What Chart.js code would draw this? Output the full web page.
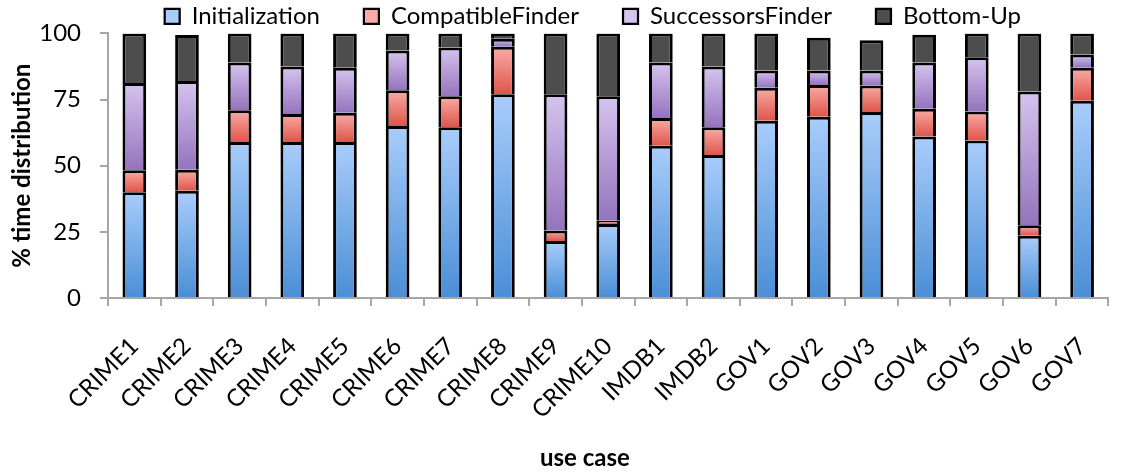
<!DOCTYPE html>
<html><head><meta charset="utf-8">
<script src="https://cdn.jsdelivr.net/npm/chart.js@4/dist/chart.umd.min.js"></script>
<style>html,body{margin:0;padding:0;background:#fff;overflow:hidden}canvas{display:block}</style>
</head><body>
<canvas id="c" width="1129" height="474"></canvas>
<script>
const categories = ['CRIME1','CRIME2','CRIME3','CRIME4','CRIME5','CRIME6','CRIME7','CRIME8','CRIME9','CRIME10','IMDB1','IMDB2','GOV1','GOV2','GOV3','GOV4','GOV5','GOV6','GOV7'];
const initialization   = [40, 40.5, 59, 59, 59, 65, 64.5, 77, 21.5, 28, 57.5, 54, 67, 68.5, 70.3, 61, 59.5, 23.5, 74.5];
const compatibleFinder = [8.3, 8, 12, 10.5, 11, 13.5, 11.7, 18, 4, 1.2, 10.5, 10.5, 12.5, 12, 10, 10.5, 11, 4, 12.5];
const successorsFinder = [33, 33.5, 18, 18, 17, 15, 18.5, 3, 51.5, 47, 21, 23, 6.5, 5.5, 5.7, 17.5, 20.5, 50.5, 5];
const bottomUp         = [18.7, 17.4, 11, 12.5, 13, 6.5, 5.3, 2, 23, 23.8, 11, 12.5, 14, 12.4, 11.4, 10.5, 9, 22, 8];
const yTicks = [0, 25, 50, 75, 100];
const seriesNames = ['Initialization', 'CompatibleFinder', 'SuccessorsFinder', 'Bottom-Up'];
const allSeries = [initialization, compatibleFinder, successorsFinder, bottomUp];

function gradientFill(light, dark, solid) {
  return function (ctx) {
    if (ctx.type !== 'data') return solid;
    const chart = ctx.chart;
    const y = chart.scales && chart.scales.y;
    if (!y || !chart.chartArea) return solid;
    let base = 0;
    for (let k = 0; k < ctx.datasetIndex; k++) base += allSeries[k][ctx.dataIndex];
    const v = allSeries[ctx.datasetIndex][ctx.dataIndex];
    const yTop = y.getPixelForValue(base + v), yBot = y.getPixelForValue(base);
    if (!isFinite(yTop) || !isFinite(yBot) || yTop === yBot) return solid;
    const g = chart.ctx.createLinearGradient(0, yTop, 0, yBot);
    g.addColorStop(0, light);
    g.addColorStop(1, dark);
    return g;
  };
}

const fills = [
  gradientFill('#a9cdfb', '#4a8ed6', '#7fb0ea'),
  gradientFill('#f9aca6', '#de554b', '#ee7f76'),
  gradientFill('#d6c4ef', '#9473bd', '#b79dd9'),
  '#4d4d4d'
];

const bw = {top: 3, bottom: 0, left: 3, right: 3};
const datasets = allSeries.map((arr, i) => ({
  label: seriesNames[i],
  data: arr,
  backgroundColor: fills[i],
  borderColor: '#000',
  borderWidth: bw,
  borderSkipped: false,
  categoryPercentage: 1,
  barPercentage: 0.45,
  stack: 's'
}));

const tickFont = {family: 'Lato', size: 24};
const titleFont = {family: 'Lato', size: 24, weight: 'bold'};
const grey = '#a6a6a6';

new Chart(document.getElementById('c'), {
  type: 'bar',
  data: {labels: categories, datasets},
  options: {
    responsive: false,
    animation: false,
    devicePixelRatio: 1,
    layout: {padding: {top: -40, left: 0, right: 4, bottom: 0}},
    plugins: {
      legend: {
        position: 'top',
        fullSize: false,
        maxHeight: 73,
        labels: {
          font: tickFont, color: '#000', boxWidth: 15, boxHeight: 15, padding: 44,
          generateLabels(chart) {
            const items = Chart.defaults.plugins.legend.labels.generateLabels(chart);
            items[items.length - 1].text += '\u00a0'.repeat(5);
            return items;
          }
        }
      },
      tooltip: {enabled: false}
    },
    scales: {
      x: {
        stacked: true,
        grid: {display: true, drawOnChartArea: false, offset: true, tickLength: 8, color: grey, lineWidth: 2},
        border: {display: true, color: grey, width: 2},
        ticks: {font: tickFont, color: '#000', minRotation: 45, maxRotation: 45, autoSkip: false, padding: 26},
        title: {display: true, text: 'use case' + '\u00a0'.repeat(8), font: titleFont, color: '#000', padding: {top: 0, bottom: 1}},
        afterFit(s) { s.height = 176; }
      },
      y: {
        stacked: true,
        min: 0, max: 100,
        afterBuildTicks(s) { s.ticks = yTicks.map(v => ({value: v})); },
        grid: {display: true, drawOnChartArea: false, tickLength: 8, color: grey, lineWidth: 2},
        border: {display: true, color: grey, width: 2},
        ticks: {font: tickFont, color: '#000', padding: 19},
        title: {display: true, text: '% time distribution', font: titleFont, color: '#000', padding: {top: 8, bottom: 0}},
        afterFit(s) { s.width = 108; }
      }
    }
  }
});
</script>
</body></html>
